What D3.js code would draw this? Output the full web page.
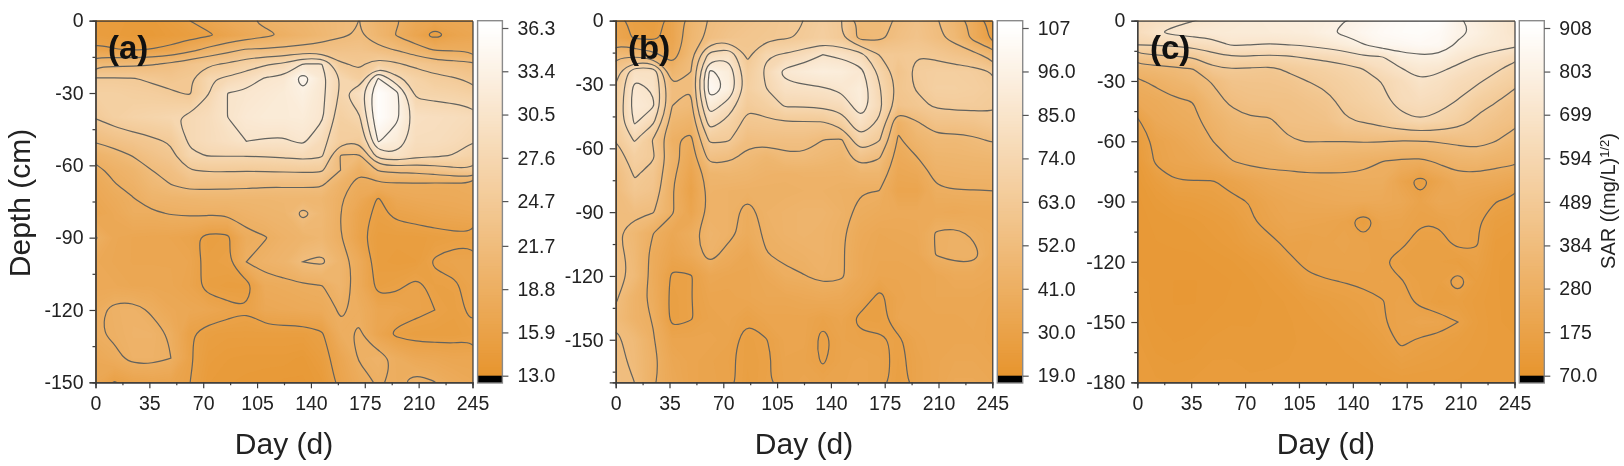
<!DOCTYPE html>
<html>
<head>
<meta charset="utf-8">
<script src="https://cdn.jsdelivr.net/npm/d3@7"></script>
<style>
  html, body { margin: 0; background: #fff; }
  svg { filter: blur(0.35px); }
  text { font-family: "Liberation Sans", Arial, sans-serif; fill: #222; }
</style>
</head>
<body>
<svg id="chart" width="1624" height="466"></svg>
<script>
// sampling days shared by the three panels
const days = [0, 12.25, 24.5, 36.75, 49, 61.25, 73.5, 85.75, 98, 110.25, 122.5, 134.75, 147, 159.25, 171.5, 183.75, 196, 208.25, 220.5, 232.75, 245];

const dayTicks = [0, 35, 70, 105, 140, 175, 210, 245];
const dayMinorTicks = [17.5, 52.5, 87.5, 122.5, 157.5, 192.5, 227.5];

// panel (a)
const depthsA = [0, -6, -12, -18, -24, -30, -40, -50, -56, -62, -68, -74, -80, -90, -100, -110, -120, -130, -140, -150];
const valuesA = [
  [15, 14.6, 14.4, 14.4, 15, 15.9, 16.8, 17.7, 18.5, 19.3, 19.8, 20.2, 20.8, 21.4, 21.7, 20, 19, 17.5, 17, 17.2, 17.4],
  [15, 14.6, 14.2, 14.2, 14.6, 15, 15.6, 16.6, 17.5, 18.3, 19, 19.8, 20.6, 21.4, 21.9, 20.3, 18.6, 16.8, 15.2, 16.5, 17],
  [16.5, 16, 15.8, 16, 16.5, 18, 19.5, 20.8, 21.9, 22, 22.3, 22.6, 22.8, 23, 23.2, 22.3, 21.5, 20, 18.5, 18.4, 18.3],
  [21, 21, 21.2, 21.5, 22.2, 23.3, 24.3, 25, 26.3, 27.3, 28, 30.7, 30.6, 25, 24.3, 26, 25, 24, 23.2, 22.7, 22.2],
  [24.9, 24.9, 24.8, 24.3, 23.8, 24.4, 27.4, 28, 29, 30.8, 31.2, 34.6, 31.5, 27.5, 25.5, 33.6, 28.2, 26.5, 25.4, 24.9, 24],
  [26, 26, 25.7, 25.5, 25, 24.4, 27.5, 30.5, 31, 31.4, 32, 33, 31.2, 27.2, 29.4, 36, 33.9, 27, 26.8, 26.5, 26],
  [24.8, 26, 26.6, 27, 27.4, 28, 28.8, 30.5, 31.5, 32, 32, 32.2, 31, 26, 27.3, 36, 33.9, 29.5, 29.2, 29, 28.6],
  [21.9, 22.8, 23.5, 24.2, 25, 28, 28.8, 29.5, 30.5, 30.3, 30.2, 31, 28.5, 25.5, 25, 33.6, 32, 29, 29, 28.5, 27.7],
  [19.6, 20.6, 21.8, 23, 24, 27.2, 27.7, 27.7, 27.7, 27.8, 28, 28.5, 28, 21.5, 21.3, 29, 30, 28.3, 28, 27.5, 26.5],
  [18.3, 19.3, 20.1, 21.7, 22.5, 24.6, 25, 25, 24.9, 25, 25.1, 25.2, 25.1, 21.7, 19, 22, 22.5, 22.5, 23.2, 24, 24.5],
  [17.6, 18.7, 19.4, 20.8, 21.7, 22.6, 22.3, 22.3, 22.2, 22, 22, 22, 22, 19.5, 18.2, 18.3, 18.3, 18.4, 18.2, 18.2, 18.4],
  [17.2, 18, 18.7, 19.8, 20, 20.2, 20.4, 20.4, 20.4, 20.4, 20.5, 20.5, 20.4, 19, 17.5, 15.7, 17.3, 17.6, 17.7, 17.8, 18],
  [16.8, 17.5, 18.5, 18.5, 18.9, 19.1, 19.1, 19, 19.6, 20, 20.2, 22.3, 20.8, 18.8, 16.6, 15.5, 16.3, 16.6, 17, 17.2, 17.4],
  [19, 17.3, 17, 16.9, 16.8, 16.4, 15.2, 15.4, 18.3, 18.7, 19.5, 19.9, 20.5, 18.8, 16.3, 15, 15, 15, 15.2, 15.4, 15.5],
  [17.5, 17.2, 17, 17, 17, 16.8, 15.4, 15.7, 18.8, 19.5, 20, 21.7, 22.2, 20, 17.8, 15, 14.8, 14.9, 16.1, 16.5, 16.5],
  [17.5, 17.5, 17.2, 17.2, 17.1, 16.6, 15.3, 15, 15, 18, 18.2, 18.5, 18.7, 20, 17.8, 15.3, 15.6, 16.3, 15.5, 15.6, 16.5],
  [18.3, 19.3, 19.5, 18.5, 17.5, 17.3, 17, 16.5, 16, 17.3, 17.5, 17.7, 17.9, 19, 18.5, 17, 16.8, 16.3, 15.9, 15.4, 16.3],
  [18.6, 19.1, 19.6, 19.6, 18.6, 16, 15.2, 15, 15, 15, 15, 15, 15.6, 18.5, 19, 16.8, 15.5, 15.2, 15.2, 15.2, 15.5],
  [17.5, 18.3, 19.4, 19.4, 18.8, 16.2, 14.8, 14.5, 14.4, 14.4, 14.4, 14.2, 15, 17, 19, 19.6, 18.4, 17.5, 17.3, 17, 17],
  [17.2, 15.8, 16.5, 16.8, 16.7, 15.9, 14.5, 14.3, 14.2, 14.1, 14, 14, 14.4, 16.5, 18, 19, 18.5, 19.5, 18.85, 18, 17.5]
];
const levelsA = [15.9, 18.8, 21.7, 24.7, 27.6, 30.5, 33.4];
const depthTicksA = [0, -30, -60, -90, -120, -150];
const depthMinorA = [-15, -45, -75, -105, -135];
const colorbarA = [13.0, 15.9, 18.8, 21.7, 24.7, 27.6, 30.5, 33.4, 36.3];
const colorbarLabelsA = ["13.0", "15.9", "18.8", "21.7", "24.7", "27.6", "30.5", "33.4", "36.3"];

// panel (b)
const depthsB = [0, -8, -16, -24, -32, -40, -48, -56, -64, -72, -80, -90, -100, -110, -120, -130, -140, -150, -160, -170];
const valuesB = [
  [33, 28, 27, 33, 46, 53, 56, 58, 60, 62, 63, 66, 63, 50, 50, 53, 57, 53, 47, 38, 26],
  [34, 29, 28, 33, 47, 54, 58, 60, 61, 62, 64, 67, 63, 48, 50, 55, 58, 54, 49, 38, 28],
  [50, 48, 44, 36, 50, 78, 82, 61, 73, 75, 79, 85, 83, 78, 63, 62, 62.8, 61, 58, 55, 47],
  [60, 82, 82, 46, 52, 98, 92, 66, 76, 88, 91, 93, 92, 88, 72, 58, 65.5, 67, 67, 66, 62.5],
  [63, 88, 84, 53, 52, 102, 94, 68, 74, 82, 83, 84, 87, 92, 75, 60, 63.5, 68, 68, 67, 65],
  [64, 90, 86, 52, 50, 91, 80, 64, 68, 75, 74.8, 76, 78, 91, 77, 58, 61, 64, 65, 65, 64],
  [66, 86, 75, 47, 44, 79, 70, 60, 61, 62, 62, 62, 68, 82, 72, 42.5, 51, 57, 57, 58, 61],
  [63, 75, 62, 42, 39, 65, 64, 54, 55, 55, 55, 52, 51, 72, 64, 40, 46, 49.5, 49, 50.5, 53],
  [58, 68, 64, 45, 36, 56, 54, 50, 47, 50.5, 51, 49, 47, 58, 53, 37, 41, 46, 46.5, 47, 47.5],
  [53, 64, 60, 43, 33, 46, 47, 46, 44, 43.5, 44, 44, 44, 46, 46, 35, 36, 43, 43.5, 44, 44],
  [52, 61, 58, 41.5, 31, 44, 43, 42.5, 42.5, 42.5, 43, 43, 42, 41.2, 41, 33, 33, 40, 40.8, 40.8, 41],
  [52, 54, 52.5, 42, 33, 43, 43, 39, 43, 44, 45, 45, 43, 39.5, 38, 37, 37, 37, 36, 37, 37],
  [53, 48, 41, 35, 39, 45, 43, 38.5, 42, 44, 45, 44, 42, 37, 35, 35.5, 36, 41.5, 42.5, 40, 38],
  [55, 49, 38, 33, 36.5, 44, 38, 34.5, 40.8, 42, 43, 44, 41.8, 36, 34.5, 34.5, 35, 41.2, 43, 43, 37],
  [55, 50, 38, 29, 29.5, 35, 34, 34, 36, 40, 40.8, 43, 42, 36, 33.5, 33.5, 34, 35, 37, 37, 36],
  [53, 44, 39, 28, 29.9, 33, 33, 34, 35, 35, 36, 37, 36, 34, 28.5, 33, 34, 35, 35, 35, 34],
  [51, 44, 40.5, 28, 29.7, 32, 33, 30.5, 33, 33, 33, 31, 33, 28.5, 28, 33.5, 34, 34, 34, 34.5, 33],
  [53, 50, 41.5, 33, 33, 33, 32, 28, 29.8, 33, 33, 28.5, 32, 31, 31, 29, 33, 34, 34, 34, 33],
  [54, 50.5, 43, 35, 33, 32, 31, 28, 29, 32.5, 32, 29.5, 32, 33, 32, 28.5, 32, 34, 35, 35, 34],
  [54, 52, 42, 36, 33, 32, 31.5, 27.5, 29.6, 32, 33, 32, 32.5, 33, 32, 28, 32, 34, 36, 36, 35]
];
const levelsB = [30, 41, 52, 63, 74, 85, 96];
const depthTicksB = [0, -30, -60, -90, -120, -150];
const depthMinorB = [-15, -45, -75, -105, -135, -165];
const colorbarB = [19, 30, 41, 52, 63, 74, 85, 96, 107];
const colorbarLabelsB = ["19.0", "30.0", "41.0", "52.0", "63.0", "74.0", "85.0", "96.0", "107"];

// panel (c)
const depthsC = [0, -6, -12, -18, -24, -30, -40, -50, -60, -70, -80, -90, -100, -110, -120, -130, -140, -150, -160, -180];
const valuesC = [
  [640, 660, 680, 698, 720, 740, 750, 760, 770, 775, 785, 802, 830, 860, 880, 895, 900, 815, 780, 740, 700],
  [640, 695, 720, 735, 745, 750, 752, 755, 760, 768, 795, 815, 845, 870, 885, 890, 870, 820, 790, 745, 700],
  [594, 600, 610, 630, 655, 708, 699, 692, 699, 710, 733, 765, 800, 845, 850, 865, 860, 790, 760, 735, 720],
  [455, 465, 485, 495, 560, 590, 585, 575, 585, 605, 620, 640, 690, 695, 770, 790, 785, 730, 695, 665, 625],
  [335, 350, 365, 385, 470, 488, 480, 470, 505, 525, 545, 565, 595, 650, 695, 730, 715, 680, 640, 610, 555],
  [270, 295, 325, 355, 390, 440, 445, 445, 455, 489, 515, 540, 565, 598, 640, 695, 670, 630, 610, 560, 525],
  [235, 250, 270, 282, 355, 400, 420, 425, 425, 440, 460, 515, 540, 570, 630, 645, 630, 590, 530, 495, 440],
  [165, 230, 250, 265, 310, 350, 375, 372, 415, 420, 430, 480, 495, 525, 565, 590, 565, 530, 470, 435, 410],
  [135, 190, 215, 240, 280, 320, 330, 340, 375, 387, 385, 385, 390, 388, 380, 382, 390, 400, 415, 385, 345],
  [120, 185, 205, 215, 240, 278, 300, 310, 310, 320, 315, 304, 293, 280, 268, 262, 293, 320, 325, 305, 295],
  [110, 140, 173, 173, 172, 190, 215, 235, 245, 250, 255, 262, 265, 265, 200, 150, 200, 245, 240, 235, 215],
  [105, 120, 135, 140, 150, 165, 177, 205, 220, 230, 235, 240, 240, 235, 225, 190, 225, 215, 200, 176, 160],
  [105, 110, 115, 120, 130, 140, 170, 190, 210, 205, 200, 190, 140, 200, 195, 178, 180, 195, 180, 145, 135],
  [105, 108, 110, 112, 120, 130, 150, 165, 186, 182, 190, 195, 185, 182, 185, 160, 160, 190, 180, 130, 125],
  [105, 107, 105, 105, 110, 115, 125, 135, 165, 185, 190, 190, 190, 176, 160, 158, 155, 145, 165, 125, 118],
  [110, 107, 100, 100, 103, 108, 115, 125, 135, 165, 172, 176, 180, 185, 178, 160, 155, 200, 145, 125, 115],
  [115, 105, 100, 100, 105, 110, 112, 118, 125, 135, 145, 155, 165, 173, 190, 165, 145, 150, 135, 125, 118],
  [120, 108, 103, 105, 110, 115, 115, 118, 122, 128, 135, 145, 155, 172, 190, 205, 200, 175, 140, 125, 120],
  [125, 112, 108, 110, 118, 120, 118, 120, 122, 125, 128, 133, 140, 155, 182, 165, 155, 145, 135, 128, 125],
  [128, 125, 122, 125, 130, 128, 125, 125, 125, 125, 125, 125, 125, 128, 130, 130, 130, 130, 128, 128, 128]
];
const levelsC = [175, 280, 384, 489, 594, 699, 803];
const depthTicksC = [0, -30, -60, -90, -120, -150, -180];
const depthMinorC = [-15, -45, -75, -105, -135, -165];
const colorbarC = [70, 175, 280, 384, 489, 594, 699, 803, 908];
const colorbarLabelsC = ["70.0", "175", "280", "384", "489", "594", "699", "803", "908"];

const lowColor = "#E7952F";
const highColor = "#FFFFFF";

const svg = d3.select("#chart");
const top_ = 20.7, bottom = 382.3;

const panels = [
  { id: "a", tag: "(a)", left: 95.5, right: 472.5, barLeft: 477.6, barRight: 502.4, tagX: 108, depths: depthsA, values: valuesA, levels: levelsA, ticks: depthTicksA, minor: depthMinorA, bar: colorbarA, barLabels: colorbarLabelsA },
  { id: "b", tag: "(b)", left: 615.7, right: 992.3, barLeft: 997.3, barRight: 1022.7, tagX: 628, depths: depthsB, values: valuesB, levels: levelsB, ticks: depthTicksB, minor: depthMinorB, bar: colorbarB, barLabels: colorbarLabelsB },
  { id: "c", tag: "(c)", left: 1137.3, right: 1514.5, barLeft: 1519.3, barRight: 1544.3, tagX: 1150, depths: depthsC, values: valuesC, levels: levelsC, ticks: depthTicksC, minor: depthMinorC, bar: colorbarC, barLabels: colorbarLabelsC }
];

panels.forEach(p => {
  const x = d3.scaleLinear().domain([0, 245]).range([p.left, p.right]);
  const y = d3.scaleLinear().domain([0, p.depths[p.depths.length - 1]]).range([top_, bottom]);
  const lo = p.bar[0], hi = p.bar[p.bar.length - 1];
  const color = d3.scaleLinear().domain([lo, hi]).range([lowColor, highColor]).clamp(true);

  const g = svg.append("g").attr("class", "panel-" + p.id);

  svg.append("clipPath").attr("id", "clip-" + p.id)
    .append("rect")
    .attr("x", p.left).attr("y", top_)
    .attr("width", p.right - p.left).attr("height", bottom - top_);

  // grid index -> data units, d3.contours puts value i at i + 0.5
  const nx = days.length, ny = p.depths.length;
  const dayAt = d3.scaleLinear().domain(days.map((d, i) => i + 0.5)).range(days);
  const depthAt = d3.scaleLinear().domain(p.depths.map((d, i) => i + 0.5)).range(p.depths);
  const project = d3.geoTransform({
    point(px, py) { this.stream.point(x(dayAt(px)), y(depthAt(py))); }
  });
  const path = d3.geoPath(project);
  const flat = p.values.flat();

  const plot = g.append("g").attr("clip-path", `url(#clip-${p.id})`);

  plot.append("rect")
    .attr("x", p.left).attr("y", top_)
    .attr("width", p.right - p.left).attr("height", bottom - top_)
    .attr("fill", color(d3.min(flat)));

  // filled bands, many thin ones so that it reads as a smooth map
  const bands = d3.range(0, 110).map(i => lo + (hi - lo) * i / 110);
  plot.selectAll("path.band")
    .data(d3.contours().size([nx, ny]).smooth(true).thresholds(bands)(flat))
    .join("path")
    .attr("class", "band")
    .attr("d", path)
    .attr("fill", d => color(d.value));

  // contour lines
  const line = d3.line()
    .x(d => x(dayAt(d[0])))
    .y(d => y(depthAt(d[1])))
    .curve(d3.curveBasisClosed);

  p.levels.forEach(level => {
    const c = d3.contours().size([nx, ny]).smooth(true).thresholds([level])(flat)[0];
    c.coordinates.forEach(polygon => {
      polygon.forEach(ring => {
        plot.append("path")
          .attr("d", line(ring.slice(0, -1)))
          .attr("fill", "none")
          .attr("stroke", "#62625e")
          .attr("stroke-width", 1.2);
      });
    });
  });

  // axes
  const xAxis = g.append("g").attr("transform", `translate(0,${bottom})`)
    .call(d3.axisBottom(x).tickValues(dayTicks).tickSize(6).tickPadding(8).tickFormat(d => String(d)));
  g.append("g").attr("transform", `translate(0,${bottom})`)
    .call(d3.axisBottom(x).tickValues(dayMinorTicks).tickSize(3).tickFormat(""));
  const yAxis = g.append("g").attr("transform", `translate(${p.left},0)`)
    .call(d3.axisLeft(y).tickValues(p.ticks).tickSize(6).tickPadding(6).tickFormat(d => String(d)));
  g.append("g").attr("transform", `translate(${p.left},0)`)
    .call(d3.axisLeft(y).tickValues(p.minor).tickSize(3).tickFormat(""));

  g.append("g").attr("transform", `translate(${p.right},0)`)
    .call(d3.axisRight(y).tickValues([]).tickSize(0));
  g.append("g").attr("transform", `translate(0,${top_})`)
    .call(d3.axisTop(x).tickValues([]).tickSize(0));

  g.selectAll(".domain, .tick line").attr("stroke", "#3a3a3a").attr("stroke-width", 1.2);
  xAxis.selectAll("text").attr("font-size", 19.5).attr("font-family", null);
  yAxis.selectAll("text").attr("font-size", 19.5).attr("font-family", null);

  g.append("text")
    .attr("x", (p.left + p.right) / 2)
    .attr("y", 443)
    .attr("dy", "0.35em")
    .attr("text-anchor", "middle")
    .attr("font-size", 30)
    .text("Day (d)");

  g.append("text")
    .attr("x", p.tagX)
    .attr("y", 59)
    .attr("font-size", 33)
    .attr("font-weight", "bold")
    .style("fill", "#111")
    .text(p.tag);

  // colour bar
  const barY = d3.scaleLinear().domain([lo, hi]).range([375.7, 28]);
  const steps = d3.range(0, 120).map(i => lo + (hi - lo) * i / 120);
  const stepHeight = barY(lo) - barY(lo + (hi - lo) / 120);
  g.selectAll("rect.step")
    .data(steps)
    .join("rect")
    .attr("class", "step")
    .attr("x", p.barLeft)
    .attr("width", p.barRight - p.barLeft)
    .attr("y", d => barY(d) - stepHeight - 0.5)
    .attr("height", stepHeight + 1)
    .attr("fill", d => color(d));
  g.append("rect")
    .attr("x", p.barLeft).attr("width", p.barRight - p.barLeft)
    .attr("y", top_).attr("height", barY(hi) - top_)
    .attr("fill", highColor);
  g.append("rect")
    .attr("x", p.barLeft).attr("width", p.barRight - p.barLeft)
    .attr("y", barY(lo)).attr("height", bottom + 0.7 - barY(lo))
    .attr("fill", "#000");
  g.append("rect")
    .attr("x", p.barLeft).attr("width", p.barRight - p.barLeft)
    .attr("y", top_).attr("height", bottom + 0.7 - top_)
    .attr("fill", "none").attr("stroke", "#8a8a8a").attr("stroke-width", 1.4);

  const barAxis = g.append("g").attr("transform", `translate(${p.barRight},0)`)
    .call(d3.axisRight(barY).tickValues(p.bar).tickSize(6).tickPadding(9)
      .tickFormat((d, i) => p.barLabels[i]));
  barAxis.select(".domain").remove();
  barAxis.selectAll(".tick line").attr("stroke", "#555").attr("stroke-width", 1.2);
  barAxis.selectAll("text").attr("font-size", 19.5).attr("font-family", null);
});

svg.append("text")
  .attr("transform", "translate(19,203) rotate(-90)")
  .attr("dy", "0.35em")
  .attr("text-anchor", "middle")
  .attr("font-size", 30)
  .text("Depth (cm)");

// SAR label with the superscript
const sar = svg.append("text")
  .attr("transform", "translate(1608,201) rotate(-90)")
  .attr("dy", "0.35em")
  .attr("text-anchor", "middle")
  .attr("font-size", 20);
sar.append("tspan").text("SAR ((mg/L)");
sar.append("tspan").attr("dy", "-0.45em").attr("font-size", 13).text("1/2");
sar.append("tspan").attr("dy", "0.3em").text(")");
</script>
</body>
</html>
